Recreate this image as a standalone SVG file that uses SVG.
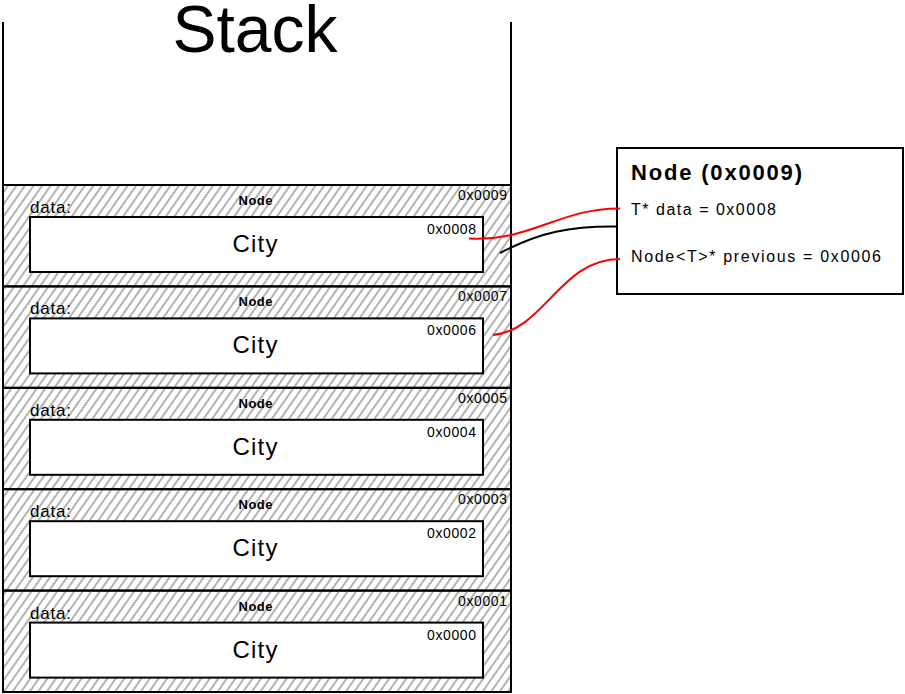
<svg xmlns="http://www.w3.org/2000/svg" width="905" height="694" viewBox="0 0 905 694">
<defs>
<pattern id="hatch" patternUnits="userSpaceOnUse" width="7" height="20" patternTransform="rotate(35)">
<line x1="1" y1="0" x2="1" y2="20" stroke="#333" stroke-width="0.75"/>
</pattern>
</defs>
<style>
.t{font-family:"Liberation Sans",Arial,sans-serif;fill:#000}
.band{fill:url(#hatch);stroke:#000;stroke-width:2}
.inner{fill:#fff;stroke:#000;stroke-width:2}
.data{font-size:17px}
.nd{font-size:13px;font-weight:bold}
.addr{font-size:14px}
.city{font-size:24px}
.red{fill:none;stroke:#f00;stroke-width:2}
.blk{fill:none;stroke:#000;stroke-width:2}
</style>
<rect width="905" height="694" fill="#fff"/>
<g id="stack">
<path d="M3,22 V692 M511,22 V692" stroke="#000" stroke-width="2" fill="none"/>
<text class="t" x="255" y="52" font-size="66" text-anchor="middle">Stack</text>
</g>
<g id="node-0x0009">
<rect class="band" x="3" y="185" width="508" height="101.4"/>
<text class="t data" x="30" y="213" textLength="41">data:</text>
<text class="t nd" x="255.5" y="205" text-anchor="middle" textLength="34">Node</text>
<text class="t addr" x="507" y="200" text-anchor="end" textLength="49">0x0009</text>
<rect class="inner" x="30" y="217" width="453" height="55"/>
<text class="t addr" x="476" y="234" text-anchor="end" textLength="49">0x0008</text>
<text class="t city" x="255" y="252" text-anchor="middle" textLength="45">City</text>
</g>
<g id="node-0x0007">
<rect class="band" x="3" y="286.4" width="508" height="101.4"/>
<text class="t data" x="30" y="314.4" textLength="41">data:</text>
<text class="t nd" x="255.5" y="306.4" text-anchor="middle" textLength="34">Node</text>
<text class="t addr" x="507" y="301.4" text-anchor="end" textLength="49">0x0007</text>
<rect class="inner" x="30" y="318.4" width="453" height="55"/>
<text class="t addr" x="476" y="335.4" text-anchor="end" textLength="49">0x0006</text>
<text class="t city" x="255" y="353.4" text-anchor="middle" textLength="45">City</text>
</g>
<g id="node-0x0005">
<rect class="band" x="3" y="387.8" width="508" height="101.4"/>
<text class="t data" x="30" y="415.8" textLength="41">data:</text>
<text class="t nd" x="255.5" y="407.8" text-anchor="middle" textLength="34">Node</text>
<text class="t addr" x="507" y="402.8" text-anchor="end" textLength="49">0x0005</text>
<rect class="inner" x="30" y="419.8" width="453" height="55"/>
<text class="t addr" x="476" y="436.8" text-anchor="end" textLength="49">0x0004</text>
<text class="t city" x="255" y="454.8" text-anchor="middle" textLength="45">City</text>
</g>
<g id="node-0x0003">
<rect class="band" x="3" y="489.2" width="508" height="101.4"/>
<text class="t data" x="30" y="517.2" textLength="41">data:</text>
<text class="t nd" x="255.5" y="509.2" text-anchor="middle" textLength="34">Node</text>
<text class="t addr" x="507" y="504.2" text-anchor="end" textLength="49">0x0003</text>
<rect class="inner" x="30" y="521.2" width="453" height="55"/>
<text class="t addr" x="476" y="538.2" text-anchor="end" textLength="49">0x0002</text>
<text class="t city" x="255" y="556.2" text-anchor="middle" textLength="45">City</text>
</g>
<g id="node-0x0001">
<rect class="band" x="3" y="590.6" width="508" height="101.4"/>
<text class="t data" x="30" y="618.6" textLength="41">data:</text>
<text class="t nd" x="255.5" y="610.6" text-anchor="middle" textLength="34">Node</text>
<text class="t addr" x="507" y="605.6" text-anchor="end" textLength="49">0x0001</text>
<rect class="inner" x="30" y="622.6" width="453" height="55"/>
<text class="t addr" x="476" y="639.6" text-anchor="end" textLength="49">0x0000</text>
<text class="t city" x="255" y="657.6" text-anchor="middle" textLength="45">City</text>
</g>
<g id="node-detail">
<rect x="617" y="148" width="286" height="146" fill="#fff" stroke="#000" stroke-width="2"/>
<text class="t" x="631" y="180" font-size="22" font-weight="bold" textLength="171">Node (0x0009)</text>
<text class="t" x="631" y="215" font-size="16" textLength="145">T* data = 0x0008</text>
<text class="t" x="631" y="262" font-size="16" textLength="250">Node&lt;T&gt;* previous = 0x0006</text>
</g>
<g id="connectors">
<path class="red" d="M469,238.5 C530,242 560,208 620,208.5"/>
<path class="blk" d="M500,253 C540,232 570,226 617,226.5"/>
<path class="red" d="M493,335 C545,330 560,259 620,259"/>
</g>
</svg>
